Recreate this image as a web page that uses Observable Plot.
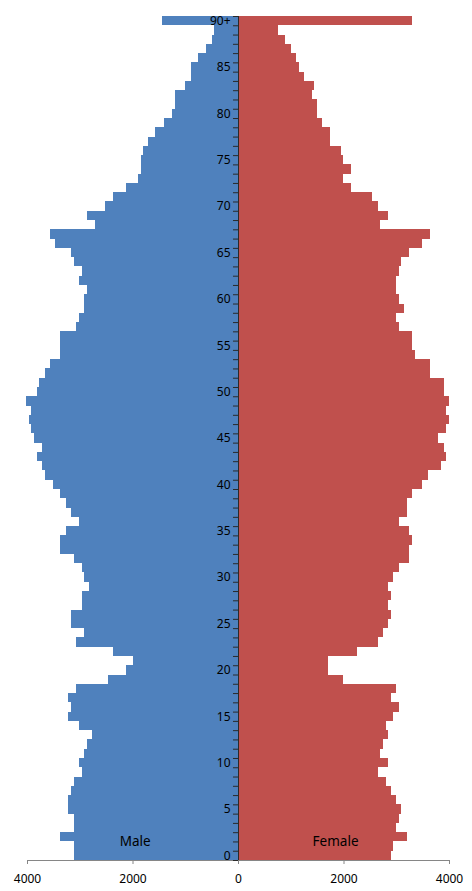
<!DOCTYPE html>
<html>
<head>
<meta charset="utf-8">
<script src="https://cdn.jsdelivr.net/npm/d3@7"></script>
<script src="https://cdn.jsdelivr.net/npm/@observablehq/plot@0.6"></script>
<style>
  html, body { margin: 0; padding: 0; background: #fff; }
  #chart svg { display: block; }
</style>
</head>
<body>
<div id="chart"></div>
<script>
// Ages 0..90 (90 = "90+")
const ages = d3.range(0, 91);

const male = [
  3102, 3102, 3368, 3102, 3102, 3216, 3216, 3159, 3102, 2950,
  3007, 2912, 2855, 2760, 3007, 3216, 3159, 3216, 3064, 2456,
  2114, 2000, 2361, 3064, 2912, 3159, 3159, 2950, 2950, 2817,
  2912, 2950, 3102, 3368, 3368, 3254, 3007, 3159, 3254, 3368,
  3500, 3652, 3709, 3804, 3709, 3861, 3918, 3956, 3918, 4013,
  3804, 3766, 3652, 3557, 3368, 3368, 3368, 3064, 3007, 2912,
  2912, 2855, 3007, 2950, 3102, 3159, 3463, 3557, 2703, 2855,
  2513, 2361, 2114, 1905, 1848, 1848, 1810, 1715, 1564, 1412,
  1260, 1203, 1203, 1013, 899, 899, 766, 614, 500, 462,
  1450
];

const female = [
  2899, 2937, 3203, 2994, 3051, 3089, 2994, 2899, 2804, 2652,
  2842, 2690, 2747, 2842, 2804, 2937, 3051, 2899, 2994, 1988,
  1703, 1703, 2253, 2652, 2747, 2842, 2899, 2842, 2899, 2842,
  2937, 3051, 3241, 3241, 3298, 3241, 3051, 3203, 3203, 3298,
  3488, 3602, 3849, 3944, 3906, 3792, 3944, 4001, 3944, 4001,
  3906, 3906, 3640, 3640, 3355, 3298, 3298, 3051, 2994, 3146,
  3051, 2994, 2994, 3051, 3089, 3241, 3488, 3640, 2690, 2842,
  2652, 2538, 2140, 1988, 2140, 1988, 1950, 1741, 1741, 1589,
  1494, 1494, 1399, 1437, 1247, 1152, 1095, 1000, 886, 753,
  3298
];

const ageTicks = [0, 5, 10, 15, 20, 25, 30, 35, 40, 45, 50, 55, 60, 65, 70, 75, 80, 85, 90];
const ageTickLabels = ["0", "5", "10", "15", "20", "25", "30", "35", "40", "45", "50", "55", "60", "65", "70", "75", "80", "85", "90+"];
const xTicks = [-4000, -2000, 0, 2000, 4000];
const seriesNames = ["Male", "Female"];

const FONT = "'Noto Sans', 'Open Sans', sans-serif";
const AXIS = "#2a2a2a";

const chart = Plot.plot({
  width: 472,
  height: 891,
  marginLeft: 27,
  marginRight: 23,
  marginTop: 16,
  marginBottom: 31,
  style: { fontFamily: FONT, fontSize: "12px", color: "#000", background: "#fff" },
  x: { domain: [-4000, 4000] },
  y: { domain: [0, 91], axis: null },
  marks: [
    Plot.rectX(ages, {
      x1: 0, x2: a => -male[a], y1: a => a, y2: a => a + 1,
      fill: "#4F81BD", shapeRendering: "crispEdges"
    }),
    Plot.rectX(ages, {
      x1: 0, x2: a => female[a], y1: a => a, y2: a => a + 1,
      fill: "#C0504D", shapeRendering: "crispEdges"
    }),
    // bottom value axis
    Plot.ruleY([0], { x1: -4000, x2: 4000, stroke: "#868686" }),
    Plot.axisX({
      ticks: xTicks, tickFormat: d => String(Math.abs(d)),
      tickSize: 4, tickPadding: 10, stroke: "#868686", fill: "#000",
      fontSize: 12, label: null
    }),
    // central age axis
    Plot.ruleY(d3.range(0, 92), { x1: -95, x2: 0, stroke: AXIS }),
    Plot.ruleX([0], { y1: 0, y2: 91, stroke: AXIS }),
    Plot.text(ageTicks, {
      x: 0, y: a => a + 0.5, text: (a, i) => ageTickLabels[i],
      dx: -8, textAnchor: "end", fill: "#000", fontSize: 12
    }),
    // series labels
    Plot.text(seriesNames, {
      x: d => d === "Male" ? -1960 : 1840, y: 2,
      text: d => d, fill: "#000", fontSize: 13.5
    })
  ]
});

document.getElementById("chart").appendChild(chart);
</script>
</body>
</html>
